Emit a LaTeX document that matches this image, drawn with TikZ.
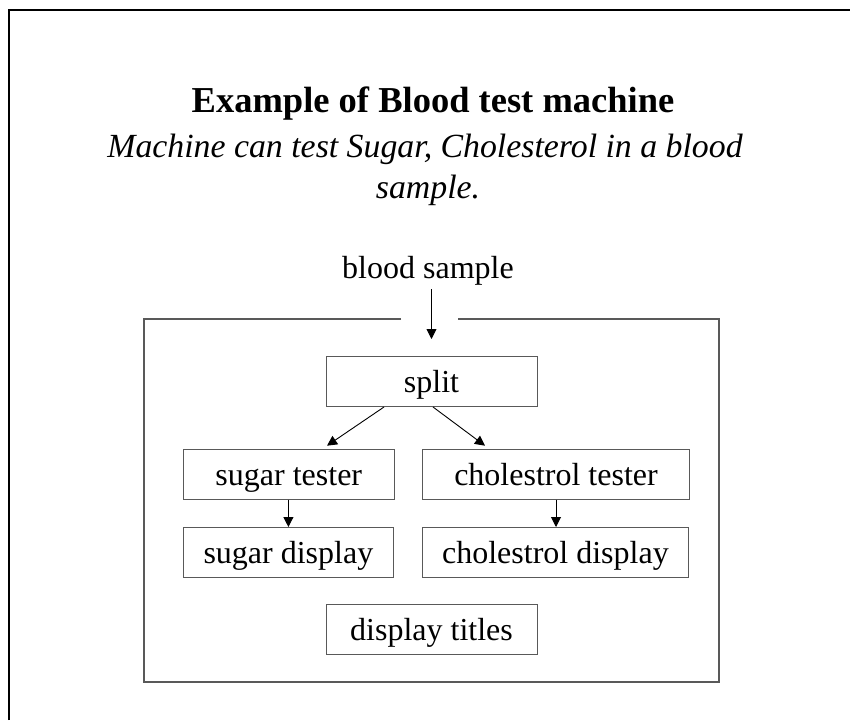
\documentclass[tikz,border=0pt]{standalone}
\usepackage{fontspec}
\setmainfont{Liberation Serif}
\usetikzlibrary{arrows.meta,calc}
\begin{document}
\begin{tikzpicture}[x=1pt,y=-1pt,
  box/.style={draw=black!65, line width=1pt, minimum height=50pt, inner sep=0pt,
    text height=27pt, text depth=5pt, font=\fontsize{32}{38}\selectfont},
  arr/.style={-{Triangle[length=10pt,width=10pt]}, line width=0.9pt},
  machine/.style={draw=black!65, line width=1.2pt},
  page/.style={draw=black, line width=2pt},
  subtitle/.style={font=\fontsize{33.8}{41}\selectfont\itshape, anchor=base}]
\useasboundingbox (0,0) rectangle (850,720);

% page edge
\draw[page] (9,720) -- (9,10) -- (850,10);

% headings
\node[font=\fontsize{36.5}{44}\selectfont\bfseries, anchor=base] (title) at (433,112) {Example of Blood test machine};
\node[subtitle] (sub1) at (425,157) {Machine can test Sugar, Cholesterol in a blood};
\node[subtitle] (sub2) at (428,198) {sample.};

% input label
\node[font=\fontsize{32}{38}\selectfont, anchor=base, inner sep=0pt] (bs) at (428,278) {blood sample};

% machine outline with an opening for the input
\coordinate (gapL) at (401,319);
\coordinate (gapR) at (458,319);
\draw[machine] (gapL) -- (144,319) -- (144,682) -- (719,682) -- (719,319) -- (gapR);

% components
\node[box, minimum width=211pt]   (split) at (431.5,381.5) {split};
\node[box, minimum width=211pt]   (st)    at (288.8,474.2) {sugar tester};
\node[box, minimum width=266.6pt] (ct)    at (556,474.2)   {cholestrol tester};
\node[box, minimum width=210.7pt] (sd)    at (288.4,552.5) {sugar display};
\node[box, minimum width=266.7pt] (cd)    at (555.4,552.5) {cholestrol display};
\node[box, minimum width=211pt]   (dt)    at (431.5,629.2) {display titles};

% flows
\coordinate (entry) at (431.5,339);
\draw[arr] ($(bs.south -| entry)+(0,4)$) -- (entry);
\draw[arr] ($(split.south)+(-47.5,0)$) -- ($(st.north)+(38.2,-3)$);
\draw[arr] ($(split.south)+(1.5,0)$) -- ($(ct.north)+(-71,-3)$);
\draw[arr] (st.south -| sd.north) -- (sd.north);
\draw[arr] (ct.south) -- (ct.south |- cd.north);
\end{tikzpicture}
\end{document}
